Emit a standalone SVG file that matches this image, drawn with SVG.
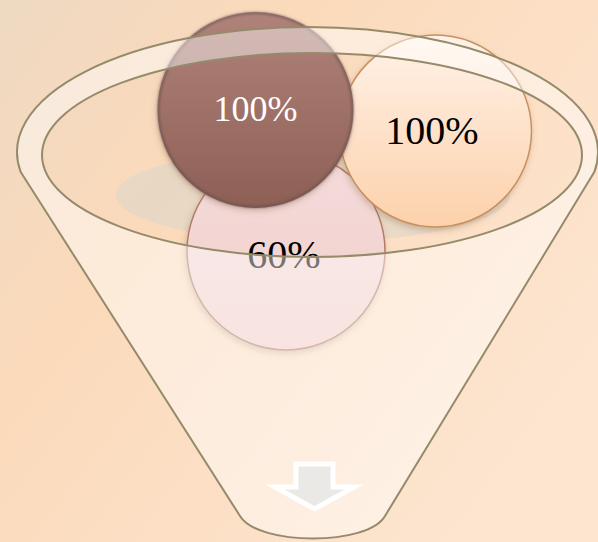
<svg xmlns="http://www.w3.org/2000/svg" width="598" height="542" viewBox="0 0 598 542">
<defs>
<linearGradient id="bg" gradientUnits="userSpaceOnUse" x1="0" y1="0" x2="560" y2="420">
<stop offset="0" stop-color="#eed9c2"/>
<stop offset="0.35" stop-color="#fbdabb"/>
<stop offset="1" stop-color="#fde5d0"/>
</linearGradient>
<linearGradient id="gDark" x1="0" y1="0" x2="0" y2="1">
<stop offset="0" stop-color="#b0837a"/>
<stop offset="1" stop-color="#8d5f55"/>
</linearGradient>
<linearGradient id="gOrange" x1="0" y1="0" x2="0" y2="1">
<stop offset="0" stop-color="#fff2e8"/>
<stop offset="1" stop-color="#fdd1ab"/>
</linearGradient>
<linearGradient id="gPink" x1="0" y1="0" x2="0" y2="1">
<stop offset="0" stop-color="#f3dcdc"/>
<stop offset="1" stop-color="#f2cdc6"/>
</linearGradient>
<filter id="shadow" x="-20%" y="-20%" width="140%" height="140%">
<feDropShadow dx="-1" dy="3" stdDeviation="3" flood-color="#8a6a50" flood-opacity="0.35"/>
</filter>
<filter id="soft" x="-10%" y="-10%" width="120%" height="120%">
<feGaussianBlur stdDeviation="1.3"/>
</filter>
<style>
.lbl{font-family:"Liberation Serif","Times New Roman",serif;text-anchor:middle}
.rim{fill:#ffffff;fill-opacity:0.45;fill-rule:evenodd;stroke:#958a6a;stroke-width:2;stroke-linejoin:round}
</style>
</defs>
<rect width="598" height="542" fill="url(#bg)"/>
<ellipse id="shadow-ellipse" cx="313" cy="195" rx="197" ry="47" fill="#e4d7c5" fill-opacity="0.8"/>
<g id="circle-60">
<circle cx="286" cy="251" r="99" fill="url(#gPink)" stroke="#b57a68" stroke-width="1.5" filter="url(#shadow)"/>
<text class="lbl" x="284" y="268" font-size="40" fill="#000">60%</text>
</g>
<g id="circle-100b">
<circle cx="435.5" cy="131" r="96" fill="url(#gOrange)" stroke="#c8905e" stroke-width="1.5" filter="url(#shadow)"/>
<text class="lbl" x="432" y="144" font-size="40" fill="#000">100%</text>
</g>
<g id="circle-100a">
<circle cx="255.5" cy="110" r="98" fill="url(#gDark)" filter="url(#shadow)"/>
<circle cx="255.5" cy="110" r="97" fill="none" stroke="#5e4a4a" stroke-width="2.5" stroke-opacity="0.55" filter="url(#soft)"/>
<text class="lbl" x="255.5" y="121" font-size="36" fill="#ffffff">100%</text>
</g>
<g id="funnel">
<path class="rim" d="M20.7,172 A290.5,125 0 1 1 594.3,172 L385,516 C368,546 258,546 240,516 Z M42,155 A270,102 0 1 0 582,155 A270,102 0 1 0 42,155 Z"/>
</g>
<g id="arrow">
<polygon points="296,464 333,464 333,487 354,487 314.5,509 275,487 296,487" fill="#ebe9e5" stroke="#ffffff" stroke-width="5" stroke-linejoin="miter"/>
</g>
</svg>
